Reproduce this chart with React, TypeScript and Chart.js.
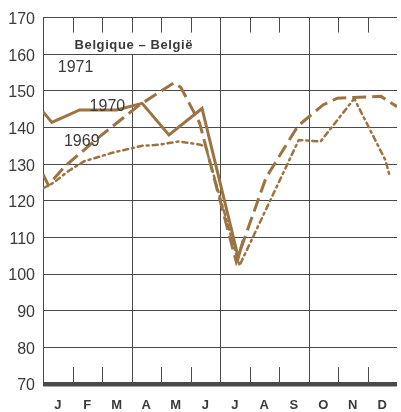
import React, { useEffect, useRef } from 'react';
import { Chart, registerables } from 'chart.js';

Chart.register(...registerables);

// Month initials (labels centred in each month)
const MONTHS = ['J', 'F', 'M', 'A', 'M', 'J', 'J', 'A', 'S', 'O', 'N', 'D'];
const Y_MIN = 70;
const Y_MAX = 170;
const Y_STEP = 10;

const TITLE = 'Belgique – België';

// Positions along the year, in months from 1 January, with index values
const X_1971 = [0, 0.30, 1.24, 2.49, 3.36, 4.27, 5.39, 6.62, 6.79];
const V_1971 = [144.3, 141.4, 144.8, 144.8, 146.6, 138.0, 145.2, 104.5, 109.4];

const X_1970 = [0, 0.18, 0.74, 1.92, 3.26, 4.44, 4.67, 5.31, 6.55, 7.56, 8.64, 9.48, 9.98, 11.46, 12];
const V_1970 = [127.3, 124.3, 129.4, 137.5, 146.1, 152.2, 151.0, 141.2, 103.4, 126.3, 140.4, 146.1, 148.0, 148.5, 145.7];

const X_1969 = [0, 0.37, 0.84, 1.40, 2.35, 2.92, 3.36, 3.93, 4.61, 5.34, 5.51, 6.66, 8.67, 9.41, 10.55, 11.60, 11.73];
const V_1969 = [123.4, 125.0, 128.0, 130.8, 133.1, 134.2, 135.0, 135.3, 136.2, 135.3, 134.8, 102.3, 136.6, 136.2, 147.9, 131.2, 127.4];

// Year labels written inside the plot (month position, index value)
const YEAR_LABELS = ['1971', '1970', '1969'];
const YEAR_LABEL_X = [0.50, 1.58, 0.71];
const YEAR_LABEL_V = [155.2, 144.4, 135.0];

const BROWN = '#9c7443';
const GRID = '#4a4a4a';
const TEXT = '#3a3a3a';
const FONT = '"Liberation Sans", Arial, sans-serif';

function pts(xs: number[], vs: number[]) {
  return xs.map((x, i) => ({ x, y: vs[i] }));
}

const framePlugin = {
  id: 'frame',
  beforeDatasetsDraw(chart: any) {
    const { ctx, chartArea: a, scales } = chart;
    const x = scales.x;
    const y = scales.y;
    ctx.save();
    ctx.strokeStyle = GRID;
    ctx.lineWidth = 1;
    for (let m = 1; m < 12; m++) {
      const px = Math.round(x.getPixelForValue(m)) + 0.5;
      ctx.beginPath();
      if (m % 3 === 0) {
        if (m === 3) {
          ctx.moveTo(px, a.top);
          ctx.lineTo(px, a.top + 15);
          ctx.moveTo(px, y.getPixelForValue(160));
          ctx.lineTo(px, a.bottom);
        } else {
          ctx.moveTo(px, a.top);
          ctx.lineTo(px, a.bottom);
        }
      } else {
        ctx.moveTo(px, a.top);
        ctx.lineTo(px, a.top + 15);
        ctx.moveTo(px, a.bottom - 17);
        ctx.lineTo(px, a.bottom);
      }
      ctx.stroke();
    }
    ctx.restore();
  },
  afterDatasetsDraw(chart: any) {
    const { ctx, scales } = chart;
    const x = scales.x;
    const y = scales.y;
    ctx.save();
    ctx.fillStyle = TEXT;
    ctx.textBaseline = 'alphabetic';
    ctx.textAlign = 'left';
    ctx.font = `16px ${FONT}`;
    YEAR_LABELS.forEach((t, i) => {
      ctx.fillText(t, x.getPixelForValue(YEAR_LABEL_X[i]), y.getPixelForValue(YEAR_LABEL_V[i]));
    });
    ctx.font = `bold 13px ${FONT}`;
    (ctx as any).letterSpacing = '0.6px';
    ctx.textAlign = 'center';
    ctx.fillText(TITLE, x.getPixelForValue(3.08), y.getPixelForValue(161.4));
    ctx.restore();
  },
};

export default function App() {
  const ref = useRef<HTMLCanvasElement | null>(null);

  useEffect(() => {
    if (!ref.current) return;
    const chart = new Chart(ref.current, {
      type: 'line',
      data: {
        datasets: [
          {
            label: '1971',
            data: pts(X_1971, V_1971),
            borderColor: BROWN,
            borderWidth: 3,
            pointRadius: 0,
            tension: 0,
            borderJoinStyle: 'miter',
          },
          {
            label: '1970',
            data: pts(X_1970, V_1970),
            borderColor: BROWN,
            borderWidth: 3,
            borderDash: [14, 6],
            pointRadius: 0,
            tension: 0,
          },
          {
            label: '1969',
            data: pts(X_1969, V_1969),
            borderColor: BROWN,
            borderWidth: 2.5,
            borderDash: [5, 4, 2, 4],
            borderCapStyle: 'round',
            pointRadius: 0,
            tension: 0,
          },
        ],
      },
      options: {
        animation: false,
        responsive: false,
        layout: { padding: { top: 13, right: 1, bottom: 0, left: 0 } },
        plugins: {
          legend: { display: false },
          tooltip: { enabled: false },
          title: { display: false },
        },
        scales: {
          x: {
            type: 'linear',
            min: 0,
            max: 12,
            afterBuildTicks: (scale: any) => {
              scale.ticks = MONTHS.map((_, i) => ({ value: i + 0.5 }));
            },
            afterFit: (scale: any) => {
              scale.height = 28;
            },
            grid: { display: false, drawTicks: false },
            border: { display: false },
            ticks: {
              autoSkip: false,
              maxRotation: 0,
              padding: 14,
              color: TEXT,
              font: { family: FONT, size: 13, weight: 'bold' },
              callback: (_v: any, i: number) => MONTHS[i],
            },
          },
          y: {
            type: 'linear',
            min: Y_MIN,
            max: Y_MAX,
            afterFit: (scale: any) => {
              scale.width = 43;
            },
            grid: {
              color: GRID,
              drawTicks: false,
              lineWidth: (c: any) => (c.tick && c.tick.value === Y_MIN ? 4.5 : 1),
            },
            border: { display: true, color: GRID, width: 1 },
            ticks: {
              stepSize: Y_STEP,
              padding: 8,
              labelOffset: 2,
              color: TEXT,
              font: { family: FONT, size: 16 },
            },
          },
        },
      },
      plugins: [framePlugin],
    } as any);
    return () => chart.destroy();
  }, []);

  return (
    <div style={{ position: 'absolute', left: 0, top: 0, width: 401, height: 412, background: '#fff' }}>
      <canvas ref={ref} width={401} height={412} style={{ display: 'block', width: 401, height: 412 }} />
    </div>
  );
}
